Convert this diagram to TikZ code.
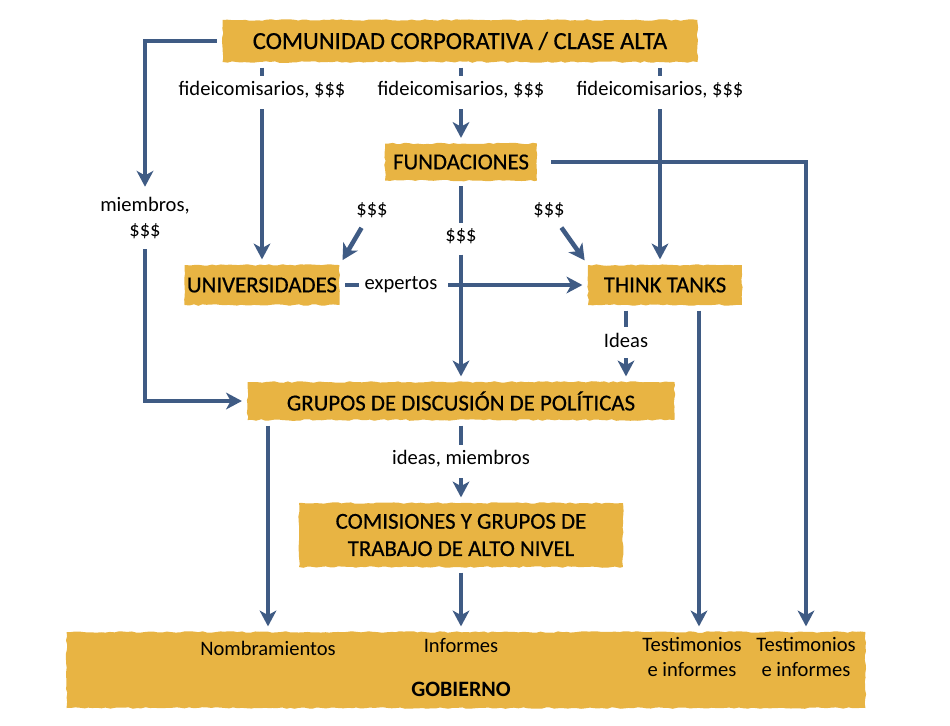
\documentclass[tikz,border=0pt]{standalone}
\usepackage{fontspec}
\setmainfont{Carlito}
\newfontfamily\boxfamily[FakeBold=0.5]{Carlito}
\usetikzlibrary{arrows.meta,calc,decorations.pathmorphing}

\definecolor{boxyellow}{HTML}{E8B443}
\definecolor{lineblue}{HTML}{3F5B84}

\tikzset{
  box/.style={fill=boxyellow, font=\boxfamily\fontsize{13}{15.5}\selectfont,
    inner sep=0pt, align=center,
    decorate, decoration={random steps, segment length=2.5pt, amplitude=0.45pt}},
  lbl/.style={font=\fontsize{11.7}{13.8}\selectfont, inner sep=3pt, align=center},
  seg/.style={draw=lineblue, line width=2.6pt, shorten <=3pt},
  flow/.style={seg, -{Stealth[length=9pt, width=9.5pt, inset=2.6pt]}, shorten >=3pt}
}

\begin{document}
\begin{tikzpicture}[x=0.02cm, y=-0.02cm]
  \useasboundingbox (0,0) rectangle (950,725);

  % boxes
  \node[box, minimum width=9.5cm, minimum height=0.84cm] (comunidad) at (460,41)
    {\fontsize{14}{16}\selectfont COMUNIDAD CORPORATIVA / CLASE ALTA};
  \node[box, minimum width=3.04cm, minimum height=0.74cm] (fundaciones) at (461,162) {FUNDACIONES};
  \node[box, minimum width=3.1cm, minimum height=0.8cm] (univ) at (262,285) {UNIVERSIDADES};
  \node[box, minimum width=3.08cm, minimum height=0.8cm] (think) at (665,285) {THINK TANKS};
  \node[box, minimum width=8.54cm, minimum height=0.76cm] (grupos) at (461,401)
    {GRUPOS DE DISCUSI\'ON DE POL\'ITICAS};
  \node[box, minimum width=6.48cm, minimum height=1.28cm] (comisiones) at (461,535)
    {COMISIONES Y GRUPOS DE\\TRABAJO DE ALTO NIVEL};
  \node[box, minimum width=15.98cm, minimum height=1.52cm] (gob) at (466,670) {};

  % labels
  \node[lbl] (fid1) at (262,90) {fideicomisarios, \$\$\$};
  \node[lbl] (fid2) at (461,90) {fideicomisarios, \$\$\$};
  \node[lbl] (fid3) at (660,90) {fideicomisarios, \$\$\$};
  \node[lbl] (miem) at (145,218) {miembros,\\\$\$\$};
  \node[lbl] (dol1) at (372,210) {\$\$\$};
  \node[lbl] (dol2) at (461,236) {\$\$\$};
  \node[lbl] (dol3) at (549,210) {\$\$\$};
  \node[lbl] (exp) at (401,285) {expertos};
  \node[lbl] (ideastt) at (626,340) {Ideas};
  \node[lbl] (ideasgr) at (461,459) {ideas, miembros};
  \node[lbl] (nomb) at (268,648) {Nombramientos};
  \node[lbl] (inf) at (461,646) {Informes};
  \node[lbl] (test1) at (692,657) {Testimonios\\e informes};
  \node[lbl] (test2) at (806,657) {Testimonios\\e informes};
  \node[lbl, font=\bfseries\fontsize{12.5}{15}\selectfont] (gobtxt) at (461,689) {GOBIERNO};

  % connectors
  \draw[flow] (comunidad.west) -| (miem.north);
  \draw[flow] (miem.south) |- (grupos.west);

  \draw[seg] (comunidad.south -| fid1) -- (fid1);
  \draw[flow] (fid1) -- (univ.north);
  \draw[seg] (comunidad.south -| fid2) -- (fid2);
  \draw[flow] (fid2) -- (fundaciones.north);
  \draw[seg] (comunidad.south -| fid3) -- (fid3);
  \draw[flow] (fid3) -- (think.north -| fid3);

  \draw[flow, shorten <=8pt] (fundaciones.east) -| (gob.north -| test2);
  \draw[seg] (fundaciones.south) -- (dol2);
  \draw[flow] (dol2) -- (grupos.north -| dol2);
  \draw[flow] (dol1) -- (univ.north east);
  \draw[flow] (dol3) -- (think.north west);

  \draw[seg] (univ.east) -- (exp);
  \draw[flow] (exp) -- (think.west);

  \draw[seg] (think.south -| ideastt) -- (ideastt);
  \draw[flow] (ideastt) -- (grupos.north -| ideastt);
  \draw[flow] ($(think.south)+(34,0)$) coordinate (tt1) -- (gob.north -| tt1);

  \draw[flow] (grupos.south -| nomb) -- (gob.north -| nomb);
  \draw[seg] (grupos.south) -- (ideasgr);
  \draw[flow] (ideasgr) -- (comisiones.north);
  \draw[flow] (comisiones.south) -- (gob.north -| comisiones);
\end{tikzpicture}
\end{document}
